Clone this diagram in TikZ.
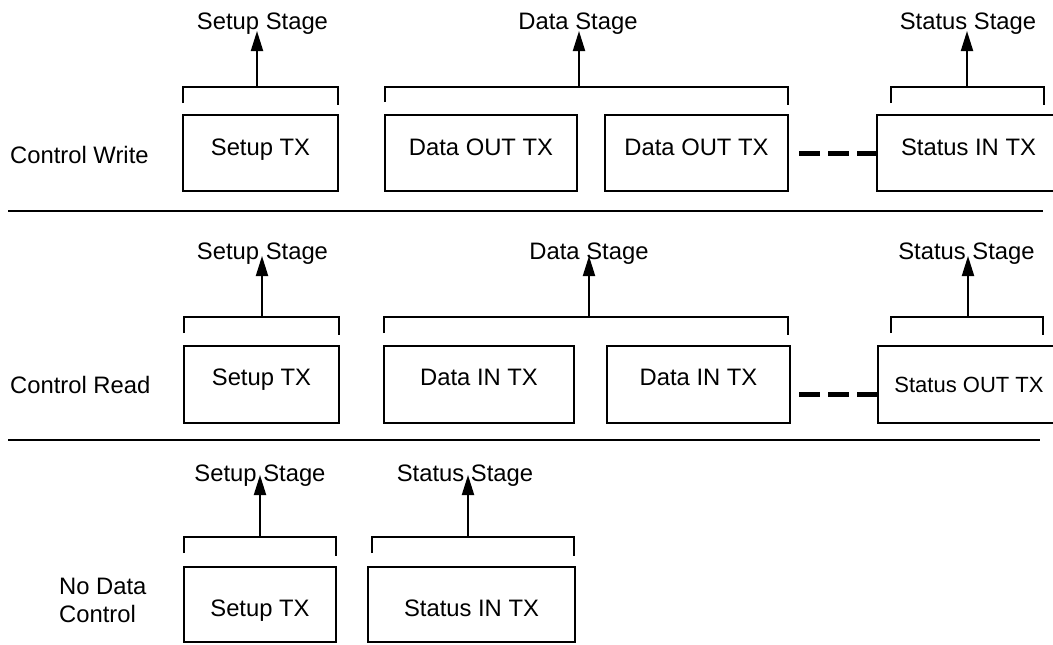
\documentclass[tikz,border=0pt]{standalone}
\usepackage{fontspec}
\setmainfont{Liberation Sans}
\usetikzlibrary{arrows.meta}
\begin{document}
\begin{tikzpicture}[x=1pt,y=-1pt,
  font=\fontsize{23.8}{28}\selectfont,
  box/.style={draw, line width=2pt, inner sep=0pt, minimum height=76pt},
  rowa/.style={box, text height=17pt, text depth=13pt},
  rowb/.style={box, text height=17pt, text depth=15pt},
  rowbs/.style={box, font=\fontsize{22}{26}\selectfont, text height=16pt, text depth=0pt},
  rowc/.style={box, minimum height=75pt, text height=24pt, text depth=0pt},
  stage/.style={anchor=base, inner sep=0pt},
  rowlabel/.style={anchor=base west, inner sep=0pt},
  brk/.style={line width=2pt},
  arr/.style={line width=2pt, -{Triangle[length=20pt,width=12pt]}},
  sep/.style={line width=2.5pt},
  gap/.style={line width=5pt, dash pattern=on 21pt off 8pt}
]
\clip[use as bounding box] (0,0) rectangle (1053,645);

% ---------------- Row 1: Control Write ----------------
\node[rowlabel] (lw) at (10,163) {Control Write};
\node[rowa, minimum width=155pt] (sw)  at (260.5,153) {Setup TX};
\node[rowa, minimum width=192pt] (dw1) at (481,153)   {Data OUT TX};
\node[rowa, minimum width=183pt] (dw2) at (696.5,153) {Data OUT TX};
\node[rowa, minimum width=183pt] (stw) at (968.5,153) {Status IN TX};

\draw[brk] (183,103) -- (183,87) -- (338,87) -- (338,105);
\draw[brk] (385,102) -- (385,87) -- (788,87) -- (788,105);
\draw[brk] (891,103) -- (891,87) -- (1044,87) -- (1044,105);
\coordinate (bw1) at (257,87);
\coordinate (bw2) at (579,87);
\coordinate (bw3) at (967,87);

\node[stage] (lsw) at (262.5,29) {Setup Stage};
\node[stage] (ldw) at (578,29)   {Data Stage};
\node[stage] (lstw) at (968,29)  {Status Stage};

\draw[arr, shorten >=2pt] (bw1) -- (bw1 |- lsw.base);
\draw[arr, shorten >=2pt] (bw2) -- (bw2 |- ldw.base);
\draw[arr, shorten >=2pt] (bw3) -- (bw3 |- lstw.base);

\draw[gap] ([xshift=10pt]dw2.east) -- (stw.west);

\draw[sep] (8,211) -- (1043,211);

% ---------------- Row 2: Control Read ----------------
\node[rowlabel] (lr) at (10,393) {Control Read};
\node[rowb, minimum width=155pt, minimum height=77pt] (sr)  at (261.5,384.5) {Setup TX};
\node[rowb, minimum width=190pt, minimum height=77pt] (dr1) at (479,384.5)   {Data IN TX};
\node[rowb, minimum width=183pt, minimum height=77pt] (dr2) at (698.5,384.5) {Data IN TX};
\node[rowbs, minimum width=182pt, minimum height=77pt] (str) at (969,384.5)  {Status OUT TX};

\draw[brk] (184,333) -- (184,317) -- (339,317) -- (339,335);
\draw[brk] (384,333) -- (384,317) -- (788,317) -- (788,335);
\draw[brk] (891,333) -- (891,317) -- (1043,317) -- (1043,335);
\coordinate (br1) at (262,317);
\coordinate (br2) at (589,317);
\coordinate (br3) at (968,317);

\node[stage] (lsr) at (262.5,259) {Setup Stage};
\node[stage] (ldr) at (589,259)   {Data Stage};
\node[stage] (lstr) at (966.5,259) {Status Stage};

\draw[arr, shorten >=-3pt] (br1) -- (br1 |- lsr.base);
\draw[arr, shorten >=-3pt] (br2) -- (br2 |- ldr.base);
\draw[arr, shorten >=-3pt] (br3) -- (br3 |- lstr.base);

\draw[gap] ([xshift=8pt,yshift=-9.5pt]dr2.east) -- ([yshift=-9.5pt]str.west);

\draw[sep] (8,440) -- (1040,440);

% ---------------- Row 3: No Data Control ----------------
\node[align=left, anchor=north west, inner sep=0pt] (ln) at (59,578) {No Data\\Control};
\node[rowc, minimum width=152pt] (sn)  at (260,604.5)   {Setup TX};
\node[rowc, minimum width=207pt] (stn) at (471.5,604.5) {Status IN TX};

\draw[brk] (184,553) -- (184,537) -- (336,537) -- (336,556);
\draw[brk] (372,553) -- (372,537) -- (574,537) -- (574,556);
\coordinate (bn1) at (260,537);
\coordinate (bn2) at (468,537);

\node[stage] (lsn) at (260,481) {Setup Stage};
\node[stage] (lstn) at (465,481) {Status Stage};

\draw[arr, shorten >=-6pt] (bn1) -- (bn1 |- lsn.base);
\draw[arr, shorten >=-6pt] (bn2) -- (bn2 |- lstn.base);
\end{tikzpicture}
\end{document}
